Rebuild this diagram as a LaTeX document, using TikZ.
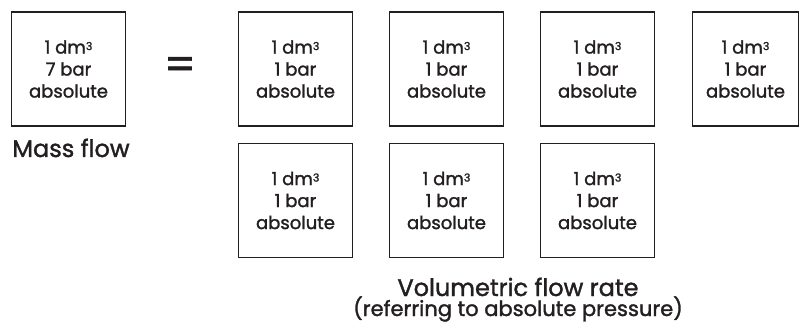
\documentclass[tikz,border=0pt]{standalone}
\usepackage{fontspec}
\setmainfont{Poppins}[FakeBold=1.5]
\usepackage{xcolor}
\usepackage{tikz}
\definecolor{ink}{RGB}{35,31,32}
\newcommand{\cubed}{{\fontsize{11}{11}\selectfont\raisebox{3.5pt}{3}}}

\begin{document}
\begin{tikzpicture}[x=1pt,y=1pt,
            vol/.style={shape=rectangle, draw=ink, line width=1.6pt, inner sep=0pt,
                minimum width=114pt, minimum height=114pt, align=center, text=ink,
                font=\fontsize{18}{22}\selectfont},
            caption/.style={anchor=base, text=ink, inner sep=0pt, font=\fontsize{24}{26}\selectfont}]
        \useasboundingbox (0,0) rectangle (800,327);

        \node[vol] (mass) at (68.5,258) {1 dm\cubed\\7 bar\\absolute};
        \node[caption] (masslabel) at (71,170) {Mass flow};
        \node[text=ink, inner sep=0pt, font=\fontsize{44}{44}\selectfont] (equals) at (180,258.5) {=};

        % top row
        \node[vol] (v1) at (295.5,258) {1 dm\cubed\\1 bar\\absolute};
        \node[vol] (v2) at (446.5,258) {1 dm\cubed\\1 bar\\absolute};
        \node[vol] (v3) at (597.5,258) {1 dm\cubed\\1 bar\\absolute};
        \node[vol, minimum width=106pt] (v4) at (745.5,258) {1 dm\cubed\\1 bar\\absolute};
        % bottom row
        \node[vol] (v5) at (295.5,126.5) {1 dm\cubed\\1 bar\\absolute};
        \node[vol] (v6) at (446.5,126.5) {1 dm\cubed\\1 bar\\absolute};
        \node[vol] (v7) at (597.5,126.5) {1 dm\cubed\\1 bar\\absolute};

        \node[caption] (vollabel) at (518,31) {Volumetric flow rate};
        \node[caption, font=\fontsize{21}{24}\selectfont] (volnote) at (518,11) {(referring to absolute pressure)};
    \end{tikzpicture}
\end{document}
